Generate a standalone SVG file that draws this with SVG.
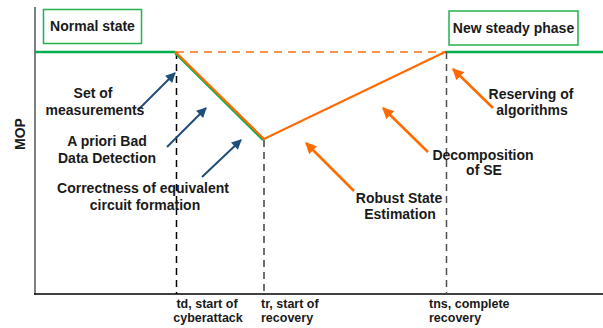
<svg xmlns="http://www.w3.org/2000/svg" width="603" height="328" viewBox="0 0 603 328">
<style>
text{font-family:"Liberation Sans",Arial,sans-serif;font-weight:bold;fill:#1a1a1a}
.lbl{font-size:14px;text-anchor:middle}
.ax{font-size:12.5px}
.box{fill:#fff;stroke:#22b14c;stroke-width:1.5}
.vd{fill:none;stroke-dasharray:7,5;stroke-width:1.5}
.ba{stroke:#1f4e79;stroke-width:2;fill:none;marker-end:url(#hb)}
.oa{stroke:#ff6a00;stroke-width:2.5;fill:none;marker-end:url(#ho)}
</style>
<defs>
<marker id="hb" viewBox="0 0 10 10" refX="9" refY="5" markerWidth="5.5" markerHeight="5" orient="auto" markerUnits="strokeWidth"><path d="M0,0 L10,5 L0,10 Z" fill="#1f4e79"/></marker>
<marker id="ho" viewBox="0 0 10 10" refX="9" refY="5" markerWidth="4.5" markerHeight="4.5" orient="auto" markerUnits="strokeWidth"><path d="M0,0 L10,5 L0,10 Z" fill="#ff6a00"/></marker>
</defs>
<rect width="603" height="328" fill="#fff"/>
<g id="axes">
<line x1="35" y1="7" x2="35" y2="294.5" stroke="#7f7f7f" stroke-width="2"/>
<line x1="34" y1="294" x2="603" y2="294" stroke="#000" stroke-width="1.3"/>
<text x="25" y="134" font-size="14" text-anchor="middle" transform="rotate(-90 25 134)">MOP</text>
</g>
<g id="connectors">
<line x1="35" y1="52" x2="175" y2="52" stroke="#00b050" stroke-width="2.5"/>
<line x1="445" y1="52" x2="603" y2="52" stroke="#00b050" stroke-width="2.5"/>
<line x1="176" y1="52" x2="445" y2="52" stroke="#ff944d" stroke-width="1.8" stroke-dasharray="8,6"/>
<line x1="176.5" y1="52" x2="176.5" y2="294" class="vd" stroke="#000"/>
<line x1="264" y1="140" x2="264" y2="294" class="vd" stroke="#404040" stroke-width="2"/>
<line x1="446.5" y1="52" x2="446.5" y2="294" class="vd" stroke="#505050" stroke-width="2"/>
<line x1="175" y1="53" x2="263" y2="140" stroke="#00b050" stroke-width="2.2"/>
<polyline points="175,51.5 264,139 445,52" fill="none" stroke="#ff6a00" stroke-width="2.2"/>
<line x1="138" y1="110" x2="175" y2="73" class="ba"/>
<line x1="167" y1="147" x2="206" y2="108" class="ba"/>
<line x1="202" y1="177" x2="241" y2="140" class="ba"/>
<line x1="493" y1="108" x2="453" y2="69" class="oa"/>
<line x1="428" y1="152" x2="383" y2="108" class="oa"/>
<line x1="354" y1="191" x2="306" y2="143" class="oa"/>
</g>
<g id="normal-state">
<rect x="43.5" y="9.5" width="98" height="34" class="box"/>
<text x="92.5" y="31" class="lbl">Normal state</text>
</g>
<g id="new-steady-phase">
<rect x="449" y="11" width="129" height="34" class="box"/>
<text x="513.5" y="33" class="lbl">New steady phase</text>
</g>
<g id="set-of-measurements">
<text x="93" y="98" class="lbl">Set of</text>
<text x="95" y="115" class="lbl">measurements</text>
</g>
<g id="bad-data-detection">
<text x="107" y="146" class="lbl">A priori Bad</text>
<text x="107" y="163" class="lbl">Data Detection</text>
</g>
<g id="equivalent-circuit">
<text x="143" y="193" class="lbl">Correctness of equivalent</text>
<text x="145" y="210" class="lbl">circuit formation</text>
</g>
<g id="reserving">
<text x="531" y="99" class="lbl">Reserving of</text>
<text x="532" y="115" class="lbl">algorithms</text>
</g>
<g id="decomposition">
<text x="483" y="160" class="lbl">Decomposition</text>
<text x="484" y="175" class="lbl">of SE</text>
</g>
<g id="robust-se">
<text x="399" y="203" class="lbl">Robust State</text>
<text x="400" y="219" class="lbl">Estimation</text>
</g>
<g id="time-labels">
<text x="207" y="308" class="ax" text-anchor="middle">td, start of</text>
<text x="208" y="322" class="ax" text-anchor="middle">cyberattack</text>
<text x="261" y="308" class="ax">tr, start of</text>
<text x="261" y="322" class="ax">recovery</text>
<text x="429" y="308" class="ax">tns, complete</text>
<text x="429" y="322" class="ax">recovery</text>
</g>
</svg>
